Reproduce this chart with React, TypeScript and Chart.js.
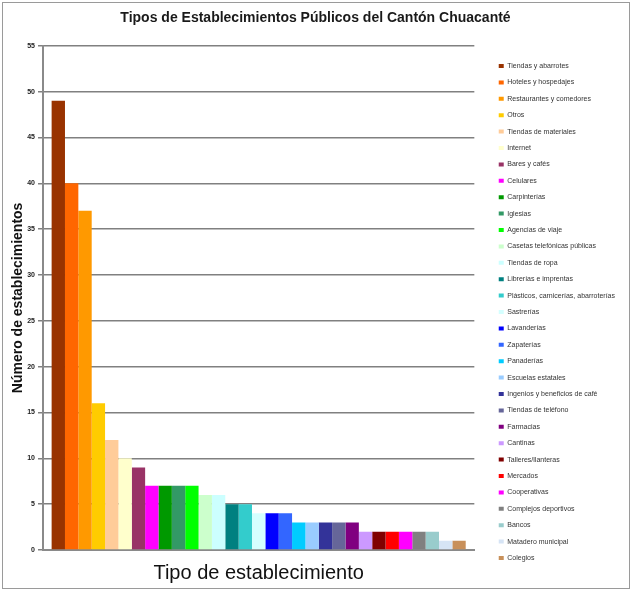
import React, { useEffect, useRef } from "react";
import { Chart, registerables } from "chart.js";

Chart.register(...registerables);

const chartTitle = "Tipos de Establecimientos Públicos del Cantón Chuacanté";
const yAxisTitle = "Número de establecimientos";
const xAxisTitle = "Tipo de establecimiento";

const categories = [
  "Tiendas y abarrotes",
  "Hoteles y hospedajes",
  "Restaurantes y comedores",
  "Otros",
  "Tiendas de materiales",
  "Internet",
  "Bares y cafés",
  "Celulares",
  "Carpinterías",
  "Iglesias",
  "Agencias de viaje",
  "Casetas telefónicas públicas",
  "Tiendas de ropa",
  "Librerías e imprentas",
  "Plásticos, carnicerías, abarroterías",
  "Sastrerías",
  "Lavanderías",
  "Zapaterías",
  "Panaderías",
  "Escuelas estatales",
  "Ingenios y beneficios de café",
  "Tiendas de teléfono",
  "Farmacias",
  "Cantinas",
  "Talleres/llanteras",
  "Mercados",
  "Cooperativas",
  "Complejos deportivos",
  "Bancos",
  "Matadero municipal",
  "Colegios",
];

const counts = [49, 40, 37, 16, 12, 10, 9, 7, 7, 7, 7, 6, 6, 5, 5, 4, 4, 4, 3, 3, 3, 3, 3, 2, 2, 2, 2, 2, 2, 1, 1];

const colors = [
  "#993300", "#FF6600", "#FF9900", "#FFCC00", "#FFCC99", "#FFFFCC",
  "#993366", "#FF00FF", "#009900", "#339966", "#00FF00", "#CCFFCC",
  "#CCFFFF", "#008080", "#33CCCC", "#D4FFFF", "#0000FF", "#3366FF",
  "#00CCFF", "#99CCFF", "#333399", "#666699", "#800080", "#CC99FF",
  "#800000", "#FF0000", "#FF00FF", "#808080", "#99CCCC", "#D6E4F5",
  "#C8905A",
];

const yTicks = { min: 0, max: 55, step: 5 };

const FONT = "'Liberation Sans', Arial, sans-serif";

// nudges the built-in legend and title, as in the original layout
const layoutOffsets = {
  id: "layoutOffsets",
  afterLayout(chart: any) {
    const l = chart.legend;
    if (l) {
      l.left += 15;
      l.right += 15;
      l.top += 19;
      l.bottom += 19;
    }
    const t = chart.titleBlock;
    if (t) {
      const dx = (chart.width / 2) - (t.left + t.right) / 2;
      t.left += dx;
      t.right += dx;
    }
  },
};

export default function App() {
  const ref = useRef<HTMLCanvasElement | null>(null);

  useEffect(() => {
    if (!ref.current) return;
    const chart = new Chart(ref.current, {
      type: "bar",
      data: {
        labels: [""],
        datasets: categories.map((name, i) => ({
          label: name,
          data: [counts[i]],
          backgroundColor: colors[i],
          borderWidth: 0,
          categoryPercentage: 0.96,
          barPercentage: 1,
        })),
      },
      options: {
        responsive: false,
        animation: false,
        layout: { padding: { left: 8, right: 21, top: 0, bottom: 3 } },
        plugins: {
          tooltip: { enabled: false },
          title: {
            display: true,
            text: chartTitle,
            color: "#1a1a1a",
            font: { family: FONT, size: 14, weight: "bold" },
            padding: { top: 10, bottom: 19 },
          },
          legend: {
            position: "right",
            align: "center",
            labels: {
              color: "#333",
              font: { family: FONT, size: 7 },
              boxWidth: 5,
              boxHeight: 4,
              padding: 9.4,
            },
          },
        },
        scales: {
          x: {
            type: "category",
            grid: { display: false },
            border: { color: "#8a8a8a", width: 2 },
            ticks: { display: false },
            title: {
              display: true,
              text: xAxisTitle,
              color: "#111",
              font: { family: FONT, size: 20 },
              padding: { top: 4, bottom: 1 },
            },
            afterFit: (s: any) => { s.height = 36; },
          },
          y: {
            min: yTicks.min,
            max: yTicks.max,
            ticks: {
              stepSize: yTicks.step,
              color: "#222",
              font: { family: FONT, size: 7, weight: "bold" },
              padding: 3,
            },
            grid: { color: "#808080", lineWidth: 1.5, tickLength: 5, drawTicks: true },
            border: { color: "#8a8a8a", width: 2 },
            title: {
              display: true,
              text: yAxisTitle,
              color: "#111",
              font: { family: FONT, size: 14, weight: "bold" },
              padding: { top: 2, bottom: 2 },
            },
            afterFit: (s: any) => { s.width = 35; },
          },
        },
      } as any,
      plugins: [layoutOffsets],
    });
    return () => chart.destroy();
  }, []);

  return (
    <div style={{ position: "absolute", left: 0, top: 0, width: 631, height: 589, background: "#fff" }}>
      <canvas ref={ref} width={631} height={589} style={{ display: "block" }} />
      <div
        style={{
          position: "absolute",
          left: 2,
          top: 2,
          width: 626,
          height: 585,
          border: "1px solid #9a9a9a",
          pointerEvents: "none",
        }}
      />
    </div>
  );
}
